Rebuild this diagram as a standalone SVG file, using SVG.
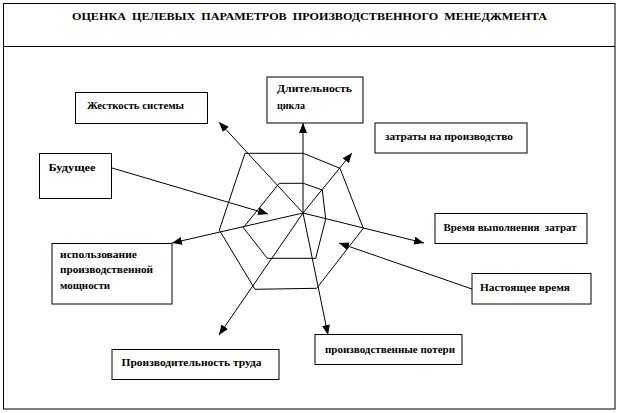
<svg xmlns="http://www.w3.org/2000/svg" width="618" height="413" viewBox="0 0 618 413">
<defs>
<style>
.box{fill:#fff;stroke:#000;stroke-width:1}
.t{font-family:'Liberation Serif','DejaVu Serif',serif;font-weight:bold;font-size:10px;fill:#000}
.ln{stroke:#000;stroke-width:1;fill:none}
.arr{stroke:#000;stroke-width:1;fill:none;marker-end:url(#ah)}
</style>
<marker id="ah" viewBox="0 0 10 8" refX="10" refY="4" markerWidth="10" markerHeight="8" markerUnits="userSpaceOnUse" orient="auto">
<path d="M0,0 L10,4 L0,8 Z" fill="#000"/>
</marker>
</defs>
<rect width="618" height="413" fill="#fff"/>
<rect x="3.5" y="3.5" width="611.5" height="405.5" class="ln"/>
<line x1="3.5" y1="46.5" x2="615" y2="46.5" class="ln"/>
<text class="t" font-family="Liberation Serif, serif" x="72" y="20" textLength="475" lengthAdjust="spacingAndGlyphs" xml:space="preserve">ОЦЕНКА  ЦЕЛЕВЫХ  ПАРАМЕТРОВ  ПРОИЗВОДСТВЕННОГО  МЕНЕДЖМЕНТА</text>

<g id="web">
<polygon class="ln" points="245,153.3 303.3,153.3 340,168.3 363.3,228.3 316.7,288.3 255,289.3 219.3,230"/>
<polygon class="ln" points="279.3,183.3 303.3,183.3 322.3,190 325.7,219 315.7,258.3 267.3,258.3 243.3,227.7"/>
</g>

<g id="connectors">
<line class="arr" x1="303" y1="213" x2="303" y2="123"/>
<line class="arr" x1="303" y1="213" x2="352" y2="153"/>
<line class="arr" x1="303" y1="213" x2="219" y2="122"/>
<line class="arr" x1="112" y1="168" x2="268" y2="214"/>
<line class="arr" x1="303" y1="213" x2="172" y2="243"/>
<line class="arr" x1="303" y1="213" x2="424" y2="243"/>
<line class="arr" x1="472" y1="289" x2="339" y2="243"/>
<line class="arr" x1="303" y1="213" x2="219" y2="335"/>
<line class="arr" x1="303" y1="213" x2="328" y2="335"/>
</g>

<g id="n-zhestkost">
<rect class="box" x="75.5" y="92.5" width="132" height="31"/>
<text class="t" x="87" y="109" textLength="97" lengthAdjust="spacingAndGlyphs">Жесткость системы</text>
</g>
<g id="n-budushchee">
<rect class="box" x="39.5" y="153.5" width="72" height="45"/>
<text class="t" x="48.5" y="171" textLength="47" lengthAdjust="spacingAndGlyphs">Будущее</text>
</g>
<g id="n-dlitelnost">
<rect class="box" x="267" y="77" width="96" height="46"/>
<text class="t" x="277" y="91.5" textLength="75" lengthAdjust="spacingAndGlyphs">Длительность</text>
<text class="t" x="277" y="108.5" textLength="28" lengthAdjust="spacingAndGlyphs">цикла</text>
</g>
<g id="n-zatraty">
<rect class="box" x="375" y="123" width="152" height="30"/>
<text class="t" x="385" y="140" textLength="128" lengthAdjust="spacingAndGlyphs">затраты на производство</text>
</g>
<g id="n-vremya">
<rect class="box" x="435" y="213.5" width="152" height="30"/>
<text class="t" x="443.5" y="231" textLength="133" lengthAdjust="spacingAndGlyphs" xml:space="preserve">Время выполнения  затрат</text>
</g>
<g id="n-nastoyashchee">
<rect class="box" x="472" y="273.5" width="119" height="30.5"/>
<text class="t" x="480" y="291" textLength="90" lengthAdjust="spacingAndGlyphs">Настоящее время</text>
</g>
<g id="n-ispolzovanie">
<rect class="box" x="52" y="243.5" width="120" height="60.5"/>
<text class="t" x="60" y="258" textLength="77" lengthAdjust="spacingAndGlyphs">использование</text>
<text class="t" x="60" y="272.5" textLength="93" lengthAdjust="spacingAndGlyphs">производственной</text>
<text class="t" x="60" y="289" textLength="50" lengthAdjust="spacingAndGlyphs">мощности</text>
</g>
<g id="n-proizvoditelnost">
<rect class="box" x="112" y="349.5" width="167" height="30"/>
<text class="t" x="121.5" y="366" textLength="140" lengthAdjust="spacingAndGlyphs">Производительность труда</text>
</g>
<g id="n-poteri">
<rect class="box" x="315" y="334.5" width="147" height="30"/>
<text class="t" x="325" y="352.5" textLength="130" lengthAdjust="spacingAndGlyphs">производственные потери</text>
</g>
</svg>
